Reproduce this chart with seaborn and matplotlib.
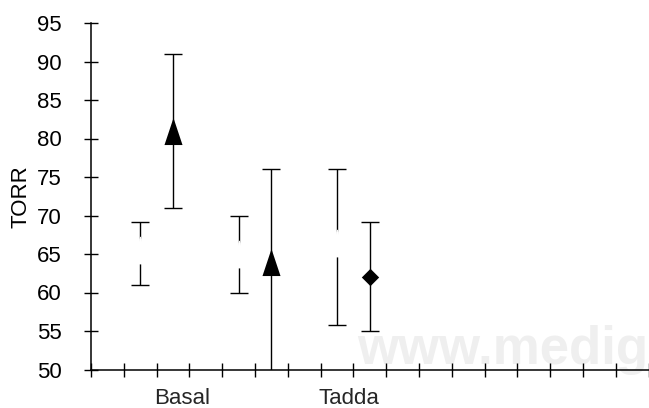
import matplotlib
matplotlib.use("Agg")
import numpy as np
import pandas as pd
import matplotlib.pyplot as plt
from matplotlib.path import Path
import seaborn as sns

# error bar groups, x = category index on the axis (17 slots)
cat_idx = [1, 2, 4, 5, 7, 8]
means = [65.5, 81, 65, 64, 66.4, 62]
lows = [61, 71, 60, 48, 55.8, 55]
highs = [69.2, 91, 70, 76, 76, 69.2]
kind = ["blank", "triangle", "blank", "triangle", "blank", "diamond"]

n_slots = 17
tick_labels = ["Basal", "Tadda"]
label_pos = [2.27, 7.37]
yticks = list(range(50, 100, 5))

df = pd.DataFrame({"x": cat_idx, "mean": means, "lo": lows, "hi": highs, "kind": kind})

sns.set_theme(style="white")
plt.rcParams["font.family"] = ["Liberation Sans", "DejaVu Sans"]

# tall triangle and diamond like the original chart
tri = Path([(0, 1.5), (-1, -1.5), (1, -1.5), (0, 1.5)],
           [Path.MOVETO, Path.LINETO, Path.LINETO, Path.CLOSEPOLY])
dia = Path([(0, 1), (1, 0), (0, -1), (-1, 0), (0, 1)],
           [Path.MOVETO, Path.LINETO, Path.LINETO, Path.LINETO, Path.CLOSEPOLY])

fig = plt.figure(figsize=(6.49, 4.08), dpi=100)
ax = fig.add_axes([91 / 649, 38.5 / 408, 557.6 / 649, 346.5 / 408])

ax.errorbar(df.x, df["mean"], yerr=[df["mean"] - df.lo, df.hi - df["mean"]],
            fmt="none", ecolor="black", elinewidth=1.0, capsize=6.5,
            capthick=1.0, zorder=2)

blank = df[df.kind == "blank"]
sns.scatterplot(x=blank.x, y=blank["mean"], ax=ax, marker=tri, s=19.5 ** 2,
                color="white", edgecolor="white", linewidth=0.5, zorder=3, legend=False)
tris = df[df.kind == "triangle"]
sns.scatterplot(x=tris.x, y=tris["mean"], ax=ax, marker=tri, s=19.5 ** 2,
                color="black", edgecolor="black", linewidth=0, zorder=3, legend=False)
dias = df[df.kind == "diamond"]
sns.scatterplot(x=dias.x, y=dias["mean"], ax=ax, marker=dia, s=12.5 ** 2,
                color="black", edgecolor="black", linewidth=0, zorder=3, legend=False)

ax.set_xlim(-0.5, n_slots - 0.5)
ax.set_ylim(50, 95)
ax.set_yticks(yticks)
ax.set_xticks(np.arange(-0.5, n_slots, 1.0))
ax.set_xticklabels([])
ax.set_xticks(label_pos, tick_labels, minor=True)

for s in ["top", "right"]:
    ax.spines[s].set_visible(False)
for s in ["left", "bottom"]:
    ax.spines[s].set_color("black")
    ax.spines[s].set_linewidth(1.1)

ax.tick_params(axis="both", which="major", direction="inout", length=10,
               width=1.0, color="black", labelsize=16, labelcolor="black",
               bottom=True, left=True)
ax.tick_params(axis="y", pad=16)
ax.tick_params(axis="x", which="minor", length=0, pad=13, labelsize=16, bottom=True)
ax.set_xlabel("")
ax.set_ylabel("TORR", fontsize=16, color="black", labelpad=4)

# faint watermark, cut by the right edge as in the source image
ax.text(357 / 649, 44 / 408, "www.medigraphic.com", transform=fig.transFigure,
        fontsize=38, fontweight="bold", color="#efefef", va="baseline",
        ha="left", zorder=0, clip_on=False)

fig.savefig("out.png", dpi=100)
